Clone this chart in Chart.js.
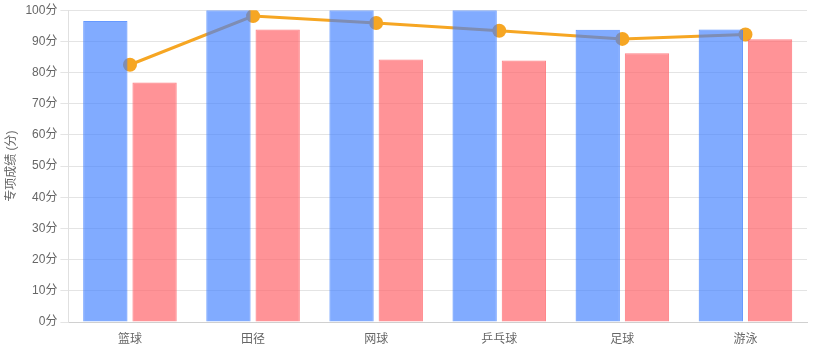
<!DOCTYPE html>
<html>
<head>
<meta charset="utf-8">
<script src="https://cdn.jsdelivr.net/npm/chart.js@4/dist/chart.umd.min.js"></script>
<style>
html,body{margin:0;padding:0;background:#fff;}
#wrap{width:818px;height:350px;position:relative;}
</style>
</head>
<body>
<div id="wrap"><canvas id="c" width="818" height="350"></canvas></div>
<script>
const categories = ['篮球', '田径', '网球', '乒乓球', '足球', '游泳'];
const seriesA = [96.5, 100, 100, 100, 93.7, 93.8];
const seriesB = [76.8, 93.8, 84.2, 83.9, 86.2, 90.7];
const seriesLine = [82.5, 98.1, 95.9, 93.4, 90.8, 92.2];
const yTicks = [0, 10, 20, 30, 40, 50, 60, 70, 80, 90, 100];
const yTitle = '专项成绩 (分)';
const unit = '分';

Chart.defaults.font.family = "'Liberation Sans', Arial, 'Noto Sans CJK SC', sans-serif";
Chart.defaults.font.size = 12;
Chart.defaults.color = '#666';

new Chart(document.getElementById('c'), {
  data: {
    labels: categories,
    datasets: [
      {
        type: 'bar',
        data: seriesA,
        backgroundColor: 'rgba(64,128,255,0.66)',
        borderColor: 'rgba(64,128,255,0.8)',
        borderWidth: 1,
        order: 1
      },
      {
        type: 'bar',
        data: seriesB,
        backgroundColor: 'rgba(255,99,104,0.69)',
        borderColor: 'rgba(255,99,104,0.8)',
        borderWidth: 1,
        order: 1
      },
      {
        type: 'line',
        data: seriesLine,
        borderColor: '#f6a623',
        backgroundColor: '#f6a623',
        borderWidth: 3,
        pointRadius: 7,
        pointBorderWidth: 0,
        tension: 0,
        fill: false,
        order: 2
      }
    ]
  },
  options: {
    responsive: false,
    animation: false,
    layout: { autoPadding: false, padding: { top: 10, right: 11, bottom: -6.4 } },
    plugins: { legend: { display: false }, tooltip: { enabled: false } },
    scales: {
      x: {
        grid: { display: false, drawTicks: false },
        border: { color: '#d0d0d0' },
        ticks: { color: '#666', padding: 10 }
      },
      y: {
        min: 0,
        max: 100,
        afterBuildTicks: (axis) => { axis.ticks = yTicks.map(v => ({ value: v })); },
        ticks: { color: '#666', callback: (v) => v + unit },
        grid: { color: '#e4e4e4' },
        border: { color: '#e0e0e0' },
        title: { display: true, text: yTitle, color: '#666', font: { size: 12 } }
      }
    }
  }
});
</script>
</body>
</html>
